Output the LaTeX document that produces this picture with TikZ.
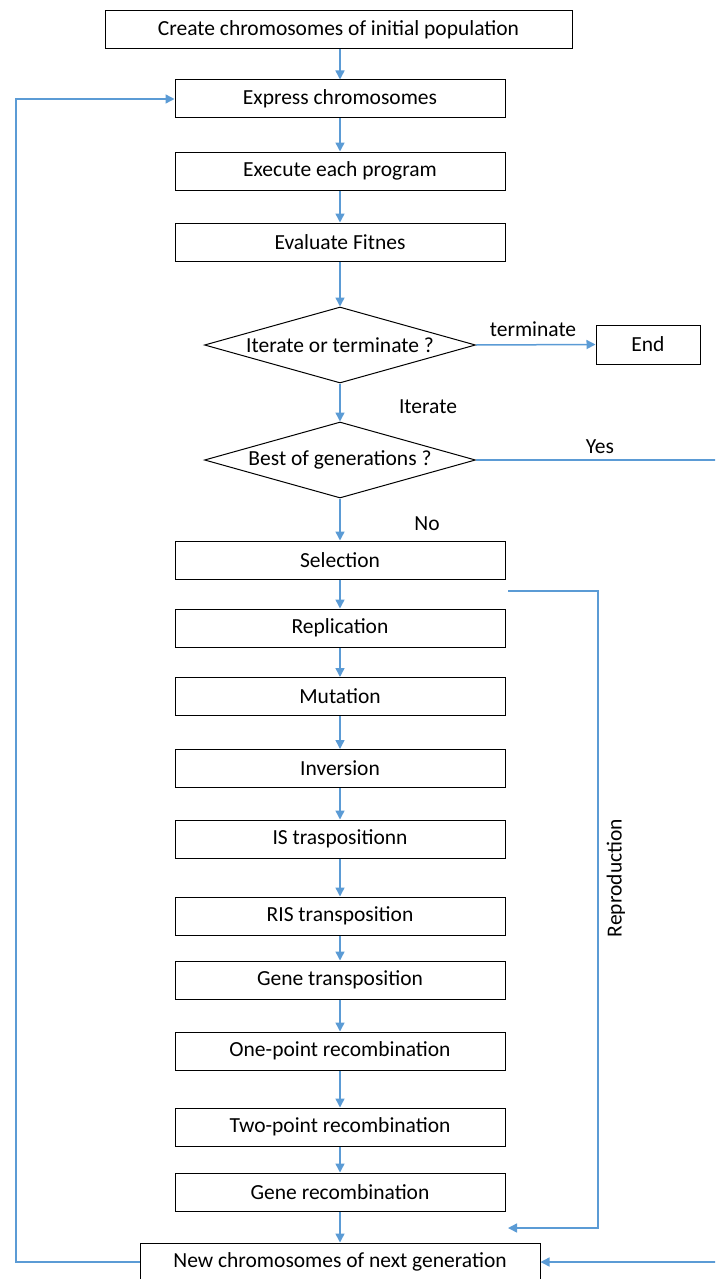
\documentclass[tikz,border=0pt]{standalone}
\usepackage{fontspec}
\setmainfont{Carlito}
\usetikzlibrary{arrows.meta,shapes.geometric}
\definecolor{flowblue}{RGB}{91,155,213}
\begin{document}
\begin{tikzpicture}[x=1pt,y=1pt,
  every node/.style={font=\fontsize{21.5}{25}\selectfont},
  stepbox/.style={draw=black,line width=1pt,minimum width=330pt,minimum height=38pt,inner sep=0pt,fill=white},
  decide/.style={draw=black,line width=1pt,diamond,minimum width=271pt,minimum height=76pt,inner sep=0pt,aspect=3.5},
  flow/.style={draw=flowblue,line width=1.5pt,-{Triangle[length=9pt,width=9pt]}},
  plain/.style={draw=flowblue,line width=1.5pt},
  lbl/.style={inner sep=0pt}]
\useasboundingbox (0,0) rectangle (715,-1279);
\clip (0,0) rectangle (715,-1279);

% main column
\node[stepbox,minimum width=467pt] (create) at (338.5,-29.5) {Create chromosomes of initial population};
\node[stepbox] (express) at (340,-99) {Express chromosomes};
\node[stepbox] (execute) at (340,-171) {Execute each program};
\node[stepbox] (evaluate) at (340,-242) {Evaluate Fitnes};
\node[decide] (iter) at (340,-345) {Iterate or terminate ?};
\node[stepbox,minimum width=104pt,minimum height=39pt] (end) at (648,-344.5) {End};
\node[decide] (best) at (340,-460) {Best of generations ?};
\node[stepbox] (sel) at (340,-560) {Selection};
\node[stepbox] (repl) at (340,-628) {Replication};
\node[stepbox] (mut) at (340,-696.5) {Mutation};
\node[stepbox] (inv) at (340,-768.5) {Inversion};
\node[stepbox] (is) at (340,-839) {IS traspositionn};
\node[stepbox] (ris) at (340,-916) {RIS transposition};
\node[stepbox] (gtr) at (340,-980) {Gene transposition};
\node[stepbox] (one) at (340,-1051) {One-point recombination};
\node[stepbox] (two) at (340,-1127) {Two-point recombination};
\node[stepbox] (grec) at (340,-1192) {Gene recombination};
\node[stepbox,minimum width=400pt] (new) at (340,-1262) {New chromosomes of next generation};

% vertical flow
\draw[flow] (create.south -| express) -- (express.north);
\draw[flow] (express) -- (execute);
\draw[flow] (execute) -- (evaluate);
\draw[flow] (evaluate) -- (iter);
\draw[flow] (iter) -- (best);
\draw[flow] (best) -- (sel);
\draw[flow] (sel) -- (repl);
\draw[flow] (repl) -- (mut);
\draw[flow] (mut) -- (inv);
\draw[flow] (inv) -- (is);
\draw[flow] (is) -- (ris);
\draw[flow] (ris) -- (gtr);
\draw[flow] (gtr) -- (one);
\draw[flow] (one) -- (two);
\draw[flow] (two) -- (grec);
\draw[flow] (grec) -- (new);

% branches
\draw[flow] (iter.east) -- (end.west);
\node[lbl] (tlbl) at (533,-329) {terminate};
\node[lbl] (ilbl) at (428,-407) {Iterate};
\node[lbl] (nlbl) at (427,-524) {No};
\node[lbl] (ylbl) at (600,-447) {Yes};
\coordinate (yesout) at (725,-460);
\coordinate (yesin) at (725,-1262);
\draw[plain] (best.east) -- (yesout) -- (yesin);
\draw[flow] (yesin) -- (new.east);

% reproduction bypass
\coordinate (rstart) at (508,-591);
\coordinate (rtop) at (598,-591);
\coordinate (rbot) at (598,-1228);
\coordinate (rend) at (508,-1228);
\draw[flow] (rstart) -- (rtop) -- (rbot) -- (rend);
\node[lbl,rotate=90] (rlbl) at (616,-878) {Reproduction};

% loop back to expression
\coordinate (lbot) at (16,-1262);
\coordinate (ltop) at (16,-99);
\draw[flow] (new.west) -- (lbot) -- (ltop) -- (express.west);
\end{tikzpicture}
\end{document}
